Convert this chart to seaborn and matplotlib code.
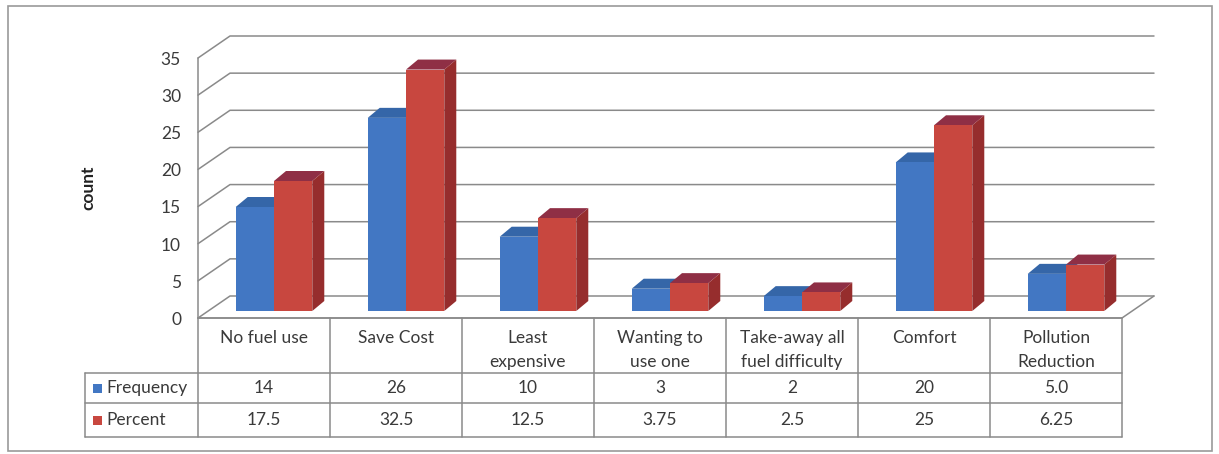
import numpy as np
import pandas as pd
import matplotlib
matplotlib.use("Agg")
import matplotlib.pyplot as plt
from matplotlib.patches import Polygon, Rectangle
from matplotlib.transforms import ScaledTranslation
import seaborn as sns

# ---- data -------------------------------------------------------------
categories = ["No fuel use", "Save Cost", "Least\nexpensive", "Wanting to\nuse one",
              "Take-away all\nfuel difficulty", "Comfort", "Pollution\nReduction"]
frequency = [14, 26, 10, 3, 2, 20, 5]
percent = [17.5, 32.5, 12.5, 3.75, 2.5, 25, 6.25]
frequency_labels = ["14", "26", "10", "3", "2", "20", "5.0"]
percent_labels = ["17.5", "32.5", "12.5", "3.75", "2.5", "25", "6.25"]
series_names = ["Frequency", "Percent"]
y_ticks = [0, 5, 10, 15, 20, 25, 30, 35]

# ---- style ------------------------------------------------------------
sns.set_theme(style="white")
plt.rcParams["font.family"] = ["Lato", "DejaVu Sans"]
TEXT = "#3a3a3a"
GRID = "#8a8a8a"
FS = 12.5

front_col = {"Frequency": "#4277c3", "Percent": "#c8473f"}
side_col = {"Frequency": "#2d5a96", "Percent": "#962d2d"}
top_col = {"Frequency": "#3566a8", "Percent": "#8f2f45"}

W, H = 1219, 454
fig = plt.figure(figsize=(W / 100, H / 100), dpi=100)
fig.patch.set_facecolor("white")

# plot area (front plane of the 3-D box)
x0, x1, yb, yt = 198, 1122, 318, 58
ax = fig.add_axes([x0 / W, (H - yb) / H, (x1 - x0) / W, (yb - yt) / H])
ax.set_xlim(-0.5, len(categories) - 0.5)
ax.set_ylim(0, 35)
ax.axis("off")

px_x = (x1 - x0) / len(categories)        # pixels per category
px_y = (yb - yt) / 35.0                   # pixels per unit
depth_dx, depth_dy = 32 / px_x, 22 / px_y  # wall depth in data units

# back wall gridlines and left-wall diagonals
n = len(categories)
for v in y_ticks:
    ax.plot([-0.5, -0.5 + depth_dx, n - 0.5 + depth_dx],
            [v, v + depth_dy, v + depth_dy], color=GRID, lw=1.1, clip_on=False)
    ax.text(-0.5 - 17 / px_x, v - 0.25, str(v), ha="right", va="center",
            fontsize=FS, color=TEXT)
# front axis and floor edges
ax.plot([-0.5, -0.5], [0, 35], color=GRID, lw=1.1, clip_on=False)
ax.plot([-0.5, n - 0.5, n - 0.5 + depth_dx], [0, 0, depth_dy],
        color=GRID, lw=1.1, clip_on=False)

# ---- 3-D bars ---------------------------------------------------------
df = pd.DataFrame({
    "category": categories * 2,
    "series": [series_names[0]] * n + [series_names[1]] * n,
    "value": frequency + percent,
})
sns.barplot(data=df, x="category", y="value", hue="series", order=categories,
            hue_order=series_names, palette=front_col, width=0.58, dodge=True,
            saturation=1, linewidth=0, ax=ax, legend=False, zorder=3)
ax.set_xlim(-0.5, n - 0.5)
ax.set_ylim(0, 35)
ax.axis("off")

# bars sit a little behind the front plane
shift = ScaledTranslation(10 / 100, 7 / 100, fig.dpi_scale_trans)
bar_trans = ax.transData + shift
bdx, bdy = 12 / px_x, 10 / px_y

bars = [p for p in ax.patches if isinstance(p, Rectangle) and p.get_height() > 0]
for i, p in enumerate(bars):
    name = series_names[0] if i < n else series_names[1]
    p.set_transform(bar_trans)
    p.set_clip_on(False)
    x, w, h = p.get_x(), p.get_width(), p.get_height()
    top = Polygon([(x, h), (x + w, h), (x + w + bdx, h + bdy), (x + bdx, h + bdy)],
                  closed=True, facecolor=top_col[name], edgecolor="none",
                  transform=bar_trans, clip_on=False, zorder=2.9)
    ax.add_patch(top)
    if name == series_names[1]:
        side = Polygon([(x + w, 0), (x + w + bdx, bdy), (x + w + bdx, h + bdy), (x + w, h)],
                       closed=True, facecolor=side_col[name], edgecolor="none",
                       transform=bar_trans, clip_on=False, zorder=2.9)
        ax.add_patch(side)

# y axis title
fig.text(88 / W, (H - 188) / H, "count", rotation=90, ha="center", va="center",
         fontsize=FS, fontweight="bold", color="#222222")

# ---- data table -------------------------------------------------------
lx = 85
tab = fig.add_axes([lx / W, (H - 437) / H, (x1 - lx) / W, (437 - yb) / H])
legend_w = (x0 - lx) / px_x
tab.set_xlim(-0.5 - legend_w, n - 0.5)
tab.set_ylim(437 - yb, 0)
tab.axis("off")
rows = [0, 55, 85, 119]
xl = -0.5 - legend_w
# horizontal rules
tab.plot([-0.5, n - 0.5], [rows[0], rows[0]], color=GRID, lw=1.1, clip_on=False)
for r in rows[1:]:
    tab.plot([xl, n - 0.5], [r, r], color=GRID, lw=1.1, clip_on=False)
# vertical rules
tab.plot([xl, xl], [rows[1], rows[3]], color=GRID, lw=1.1, clip_on=False)
for k in range(n + 1):
    tab.plot([k - 0.5, k - 0.5], [rows[0], rows[3]], color=GRID, lw=1.1, clip_on=False)

for k, c in enumerate(categories):
    tab.text(k, rows[0] + 12, c, ha="center", va="top", fontsize=FS, color=TEXT,
             linespacing=1.6)
    tab.text(k, (rows[1] + rows[2]) / 2, frequency_labels[k], ha="center",
             va="center", fontsize=FS, color=TEXT)
    tab.text(k, (rows[2] + rows[3]) / 2, percent_labels[k], ha="center",
             va="center", fontsize=FS, color=TEXT)

for j, name in enumerate(series_names):
    yc = (rows[1 + j] + rows[2 + j]) / 2
    tab.add_patch(Rectangle((xl + 8 / px_x, yc - 4.5), 9 / px_x, 9,
                            facecolor=front_col[name], edgecolor="none",
                            clip_on=False))
    tab.text(xl + 21 / px_x, yc, name, ha="left", va="center", fontsize=FS,
             color=TEXT)

# chart frame
fig.add_artist(Rectangle((8 / W, 3 / H), 1204 / W, 445 / H, transform=fig.transFigure,
                         fill=False, edgecolor="#9a9a9a", lw=1.2))

fig.savefig("out.png", dpi=100, facecolor="white")
